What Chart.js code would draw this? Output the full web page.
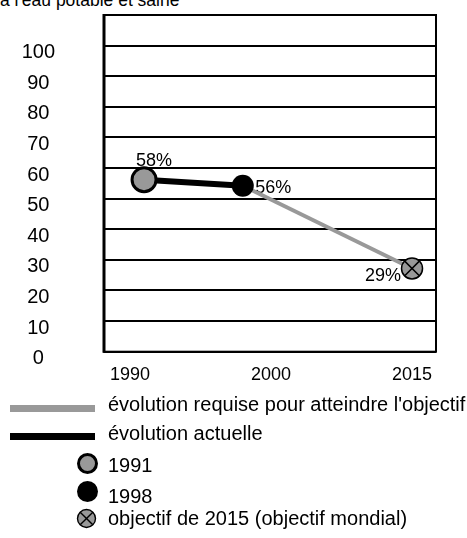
<!DOCTYPE html>
<html>
<head>
<meta charset="utf-8">
<script src="https://cdn.jsdelivr.net/npm/chart.js@4/dist/chart.umd.min.js"></script>
<style>
  html, body { margin: 0; padding: 0; background: #fff; width: 467px; height: 538px; overflow: hidden; }
  body { position: relative; font-family: "Liberation Sans", Arial, sans-serif; color: #000; }
  #chart { position: absolute; left: 0; top: 0; }
  .title { position: absolute; left: 0; top: -8px; font-size: 17.5px; line-height: 17.5px; white-space: nowrap; }
  .legend-row { position: absolute; left: 0; width: 467px; height: 20px; }
  .legend-text { position: absolute; left: 108px; top: 0; font-size: 20px; line-height: 20px; white-space: nowrap; }
  .swatch-line { position: absolute; left: 10px; width: 85px; height: 7px; }
  .swatch-dot { position: absolute; box-sizing: border-box; border-radius: 50%; }
</style>
</head>
<body>
<div class="title">à l'eau potable et saine</div>
<canvas id="chart" width="467" height="400"></canvas>
<div id="legend"></div>
<script>
// Axis labels
const xLabels = ['1990', '2000', '2015'];
const yTickValues = [0, 10, 20, 30, 40, 50, 60, 70, 80, 90, 100];

// Observed access rate (%)
const actualYears = [1991, 1998];
const actualValues = [58, 56];

// Path required to reach the 2015 goal (%)
const requiredYears = [1998, 2015];
const requiredValues = [56, 29];

// World goal for 2015 (%)
const goalYears = [2015];
const goalValues = [29];

const legendLabels = [
  "évolution requise pour atteindre l'objectif",
  'évolution actuelle',
  '1991',
  '1998',
  'objectif de 2015 (objectif mondial)'
];

const GRAY = '#999999';
const FONT = '"Liberation Sans", Arial, sans-serif';
// tick labels sit a few px below their grid line; data follow the labels
const LABEL_DROP_PX = 7;
const DATA_SHIFT = 1.8;

// position of a year between the equally spaced year labels
const labelYears = xLabels.map(Number);
function slotOf(year) {
  for (let i = 0; i < labelYears.length - 1; i++) {
    const a = labelYears[i], b = labelYears[i + 1];
    if (year <= b || i === labelYears.length - 2) return i + (year - a) / (b - a);
  }
  return 0;
}
const toPoints = (years, values) => years.map((yr, i) => ({ x: slotOf(yr), y: values[i] }));

// keep the plot box where the layout padding puts it
function dropScalePadding(s) {
  s.paddingTop = 0; s.paddingBottom = 0; s.paddingLeft = 0; s.paddingRight = 0;
}

const framePlugin = {
  id: 'frame',
  beforeDatasetsDraw(chart) {
    const { ctx, chartArea: a } = chart;
    ctx.save();
    ctx.strokeStyle = '#000';
    ctx.lineWidth = 2;
    ctx.strokeRect(a.left, a.top, a.right - a.left, a.bottom - a.top);
    ctx.lineWidth = 3;
    ctx.beginPath();
    ctx.moveTo(a.left, a.top - 1);
    ctx.lineTo(a.left, a.bottom + 1);
    ctx.stroke();
    ctx.restore();
  }
};

// percentage labels next to the markers
const labelPlacement = [
  { ds: 0, i: 0, dx: 10, dy: -19, align: 'center' },
  { ds: 0, i: 1, dx: 12.5, dy: 2.5, align: 'left' },
  { ds: 1, i: 1, dx: -11, dy: 7.5, align: 'right' }
];
const valueLabelPlugin = {
  id: 'valueLabels',
  beforeDatasetsDraw(chart) {
    const { ctx } = chart;
    ctx.save();
    ctx.fillStyle = '#000';
    ctx.font = '18px ' + FONT;
    ctx.textBaseline = 'middle';
    labelPlacement.forEach(p => {
      const el = chart.getDatasetMeta(p.ds).data[p.i];
      const v = chart.data.datasets[p.ds].data[p.i].y;
      ctx.textAlign = p.align;
      ctx.fillText(v + '%', el.x + p.dx, el.y + p.dy);
    });
    ctx.restore();
  }
};

new Chart(document.getElementById('chart'), {
  type: 'line',
  data: {
    datasets: [
      {
        label: legendLabels[1],
        data: toPoints(actualYears, actualValues),
        yAxisID: 'yData',
        borderColor: '#000',
        borderWidth: 6,
        pointStyle: 'circle',
        pointRadius: [12, 11],
        pointBackgroundColor: [GRAY, '#000'],
        pointBorderColor: '#000',
        pointBorderWidth: [3, 0],
        order: 0
      },
      {
        label: legendLabels[0],
        data: toPoints(requiredYears, requiredValues),
        yAxisID: 'yData',
        borderColor: GRAY,
        borderWidth: 4,
        pointStyle: 'circle',
        pointRadius: [0, 10.5],
        pointBackgroundColor: GRAY,
        pointBorderColor: '#000',
        pointBorderWidth: 1.5,
        order: 2
      },
      {
        label: legendLabels[4],
        data: toPoints(goalYears, goalValues),
        yAxisID: 'yData',
        showLine: false,
        pointStyle: 'crossRot',
        pointRadius: 10,
        pointBorderColor: '#000',
        pointBorderWidth: 1.5,
        order: 1
      }
    ]
  },
  options: {
    responsive: false,
    animation: false,
    layout: { padding: { left: 0, right: 31, top: 11.5, bottom: 0 } },
    plugins: { legend: { display: false }, tooltip: { enabled: false }, title: { display: false } },
    scales: {
      x: {
        type: 'linear',
        min: -0.184,
        max: 2.17,
        afterBuildTicks: s => { s.ticks = xLabels.map((_, i) => ({ value: i })); },
        afterFit: s => { s.height = 48.3; dropScalePadding(s); },
        ticks: {
          autoSkip: false,
          maxRotation: 0,
          padding: 13,
          color: '#000',
          font: { family: FONT, size: 18 },
          callback: (v, i) => xLabels[i]
        },
        grid: { display: false, drawTicks: false },
        border: { display: false }
      },
      y: {
        type: 'linear',
        min: 0,
        max: 110,
        afterBuildTicks: s => { s.ticks = yTickValues.concat([110]).map(v => ({ value: v })); },
        afterFit: s => { s.width = 104; dropScalePadding(s); },
        ticks: {
          autoSkip: false,
          crossAlign: 'center',
          padding: 49,
          labelOffset: LABEL_DROP_PX,
          color: '#000',
          font: { family: FONT, size: 20 },
          callback: v => (yTickValues.includes(v) ? String(v) : '')
        },
        grid: { color: '#000', lineWidth: 2, drawTicks: false },
        border: { display: false }
      },
      yData: {
        type: 'linear',
        display: false,
        min: DATA_SHIFT,
        max: 110 + DATA_SHIFT
      }
    }
  },
  plugins: [framePlugin, valueLabelPlugin]
});

// legend below the chart
const legend = document.getElementById('legend');
const rows = [
  { top: 394, swatch: `<div class="swatch-line" style="top:11px;background:${GRAY};height:6.5px"></div>` },
  { top: 423, swatch: `<div class="swatch-line" style="top:10px;background:#000"></div>` },
  { top: 455, swatch: `<div class="swatch-dot" style="left:77px;top:-2px;width:21px;height:21px;background:${GRAY};border:3px solid #000"></div>` },
  { top: 486, swatch: `<div class="swatch-dot" style="left:77px;top:-5px;width:21px;height:21px;background:#000"></div>` },
  { top: 508, swatch: `<svg style="position:absolute;left:76px;top:0" width="21" height="21" viewBox="0 0 21 21"><circle cx="10.5" cy="10.5" r="9" fill="${GRAY}" stroke="#000" stroke-width="1.4"/><line x1="4.2" y1="4.2" x2="16.8" y2="16.8" stroke="#000" stroke-width="1.4"/><line x1="16.8" y1="4.2" x2="4.2" y2="16.8" stroke="#000" stroke-width="1.4"/></svg>` }
];
rows.forEach((r, k) => {
  const row = document.createElement('div');
  row.className = 'legend-row';
  row.style.top = r.top + 'px';
  row.innerHTML = r.swatch + `<div class="legend-text">${legendLabels[k]}</div>`;
  legend.appendChild(row);
});
</script>
</body>
</html>
